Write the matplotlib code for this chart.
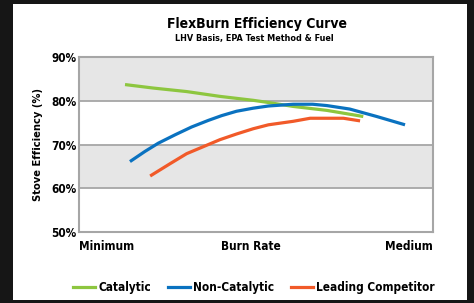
import matplotlib
matplotlib.use("Agg")
import matplotlib.pyplot as plt
from matplotlib.patches import Rectangle
from matplotlib.lines import Line2D

plt.rcParams['font.family'] = ['DejaVu Sans']
plt.rcParams['font.stretch'] = 'condensed'
plt.rcParams['font.weight'] = 'bold'

title = "FlexBurn Efficiency Curve"
subtitle = "LHV Basis, EPA Test Method & Fuel"
ylabel = "Stove Efficiency (%)"
x_ticklabels = ["Minimum", "Burn Rate", "Medium"]
y_ticks = [50, 60, 70, 80, 90]
y_ticklabels = ["50%", "60%", "70%", "80%", "90%"]

series_names = ["Catalytic", "Non-Catalytic", "Leading Competitor"]
colors = ["#8dc63f", "#0a72c0", "#f15a29"]

# x runs from Minimum (0) to Medium (1) burn rate
cat_x = [0.130, 0.210, 0.304, 0.398, 0.492, 0.535, 0.605, 0.700, 0.803]
cat_y = [83.7, 82.9, 82.1, 81.0, 80.1, 79.6, 78.7, 77.8, 76.4]

non_x = [0.144, 0.186, 0.224, 0.271, 0.318, 0.365, 0.403, 0.445, 0.492, 0.535, 0.605, 0.660, 0.700, 0.765, 0.841, 0.921]
non_y = [66.1, 68.4, 70.3, 72.2, 74.0, 75.5, 76.6, 77.6, 78.3, 78.8, 79.2, 79.2, 78.9, 78.1, 76.4, 74.5]

lead_x = [0.201, 0.257, 0.304, 0.351, 0.398, 0.445, 0.492, 0.535, 0.605, 0.653, 0.747, 0.794]
lead_y = [62.8, 65.6, 67.9, 69.5, 71.1, 72.4, 73.6, 74.5, 75.3, 76.0, 76.0, 75.4]

fig = plt.figure(figsize=(4.74, 3.03), dpi=100, facecolor="#161616")
fig.patches.append(Rectangle((13/474, 3/303), 454/474, 296/303, transform=fig.transFigure,
                             facecolor="white", edgecolor="none", zorder=-10))

ax = fig.add_axes([79/474, 1 - 232/303, 354/474, 175/303])
ax.set_xlim(0, 1)
ax.set_ylim(50, 90)
ax.set_facecolor("white")
for lo, hi in [(60, 70), (80, 90)]:
    ax.axhspan(lo, hi, color="#e6e6e6", zorder=0, lw=0)
for y in [60, 70, 80]:
    ax.axhline(y, color="#a6a6a6", lw=1.3, zorder=1)
for s in ax.spines.values():
    s.set_color("#a6a6a6")
    s.set_linewidth(1.5)

for xs, ys, c in [(cat_x, cat_y, colors[0]), (non_x, non_y, colors[1]), (lead_x, lead_y, colors[2])]:
    ax.plot(xs, ys, color=c, lw=2.3, solid_capstyle="butt", solid_joinstyle="round", zorder=3)

ax.set_yticks(y_ticks)
ax.set_yticklabels(y_ticklabels, fontsize=8.5, fontweight="bold")
ax.tick_params(axis="y", length=0, pad=2)
ax.set_xticks([])
ax.set_ylabel(ylabel, fontsize=8, fontweight="bold", labelpad=6)

fs = 8.5
ax.text(0.0, -0.085, x_ticklabels[0], transform=ax.transAxes, ha="left", va="center", fontsize=fs, fontweight="bold")
ax.text(0.486, -0.085, x_ticklabels[1], transform=ax.transAxes, ha="center", va="center", fontsize=fs, fontweight="bold")
ax.text(1.0, -0.085, x_ticklabels[2], transform=ax.transAxes, ha="right", va="center", fontsize=fs, fontweight="bold")

fig.text(257/474, 1 - 24/303, title, ha="center", va="center", fontsize=10, fontweight="bold")
fig.text(254/474, 1 - 38/303, subtitle, ha="center", va="center", fontsize=6.5, fontweight="bold")

handles = [Line2D([0], [0], color=c, lw=2.3) for c in colors]
leg = fig.legend(handles, series_names, loc="center", bbox_to_anchor=(254/474, 1 - 288/303),
                 ncol=3, frameon=False, handlelength=1.85, handletextpad=0.25,
                 columnspacing=1.45, prop={"weight": "bold", "size": 8.5, "stretch": "condensed"})

fig.savefig("out.png", dpi=100, facecolor=fig.get_facecolor())
